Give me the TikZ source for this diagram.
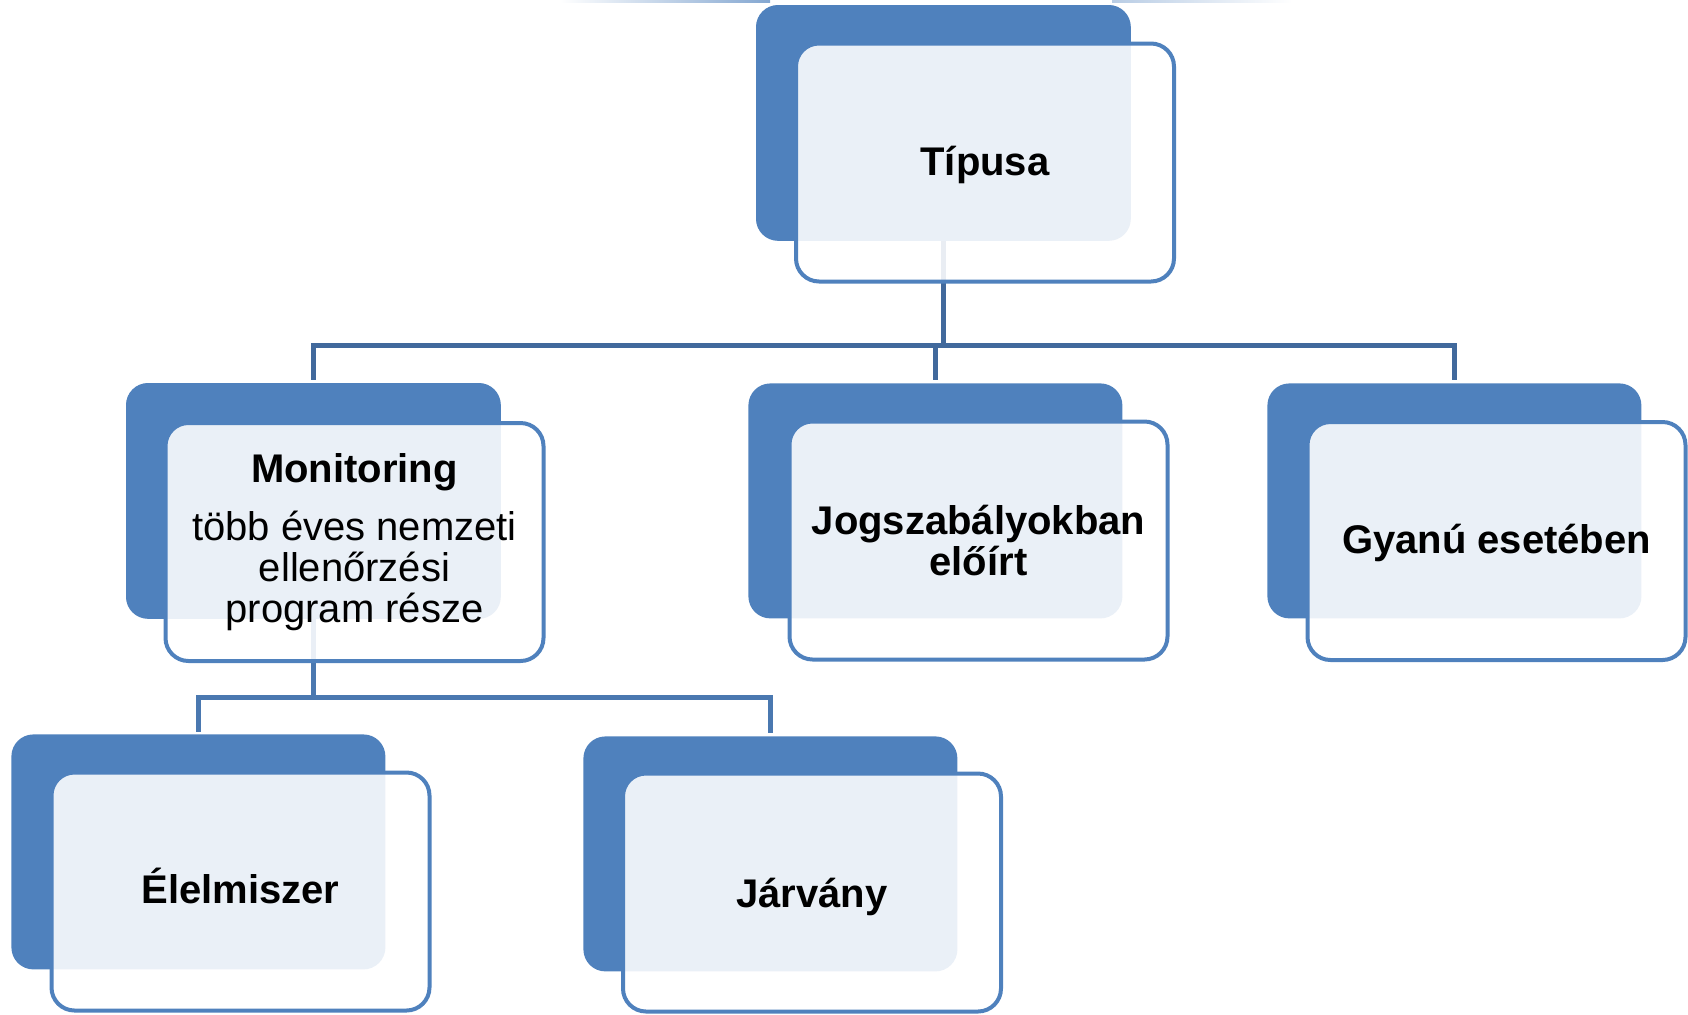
\documentclass[tikz,border=0pt]{standalone}
\usepackage{fontspec}
\setmainfont{Liberation Sans}
\usetikzlibrary{calc}
\definecolor{blueD}{HTML}{4F81BD}
\definecolor{connA}{HTML}{41699C}
\definecolor{connB}{HTML}{4A78B0}
\tikzset{
  darkbox/.style={rectangle, rounded corners=11pt, fill=blueD, draw=none,
    minimum width=187pt, minimum height=117.5pt, inner sep=0pt, anchor=north west},
  lightbox/.style={rectangle, rounded corners=11.5pt, draw=blueD, line width=2pt,
    fill=white, fill opacity=0.885, text opacity=1,
    minimum width=189pt, minimum height=119pt, inner sep=0pt, align=center,
    font=\fontsize{20}{20.5}\selectfont\bfseries},
  oneline/.style={text height=14.3pt, text depth=4.2pt},
  connA/.style={draw=connA, line width=2.5pt, line cap=rect, line join=miter},
  connB/.style={draw=connB, line width=2.5pt, line cap=rect, line join=miter}
}
\begin{document}
\begin{tikzpicture}[x=0.5pt, y=-0.5pt]
\useasboundingbox (0,0) rectangle (1688,1014);
% faint top line
\shade[left color=white, right color=blueD!70] (560,0) rectangle (770,2);
\shade[left color=blueD!40, right color=white] (1112,0) rectangle (1292,2);

% dark boxes (positions only, no text)
\node[darkbox] (tD) at (756,5) {};
\node[darkbox] (monD) at (126,383) {};
\node[darkbox] (jogD) at (748,383) {};
\node[darkbox] (gyD) at (1267,383) {};
\node[darkbox] (elD) at (11,734) {};
\node[darkbox] (jaD) at (583,736) {};

% connectors (behind the light boxes)
\draw[connA] (tD.south) -- ++(0,105) coordinate (hub);
\draw[connA] (hub -| monD.north) -- (hub -| gyD.north);
\draw[connA, shorten >=3pt] (hub -| monD.north) -- (monD.north);
\draw[connA, shorten >=3pt] (hub -| jogD.north) -- (jogD.north);
\draw[connA, shorten >=3pt] (hub -| gyD.north) -- (gyD.north);

\draw[connB] (monD.south) -- ++(0,79) coordinate (hub2);
\draw[connB] (hub2 -| elD.north) -- (hub2 -| jaD.north);
\draw[connB, shorten >=2.5pt] (hub2 -| elD.north) -- (elD.north);
\draw[connB, shorten >=3pt] (hub2 -| jaD.north) -- (jaD.north);

% redraw dark boxes over connector stubs
\fill[blueD, rounded corners=11pt] (tD.south west) rectangle (tD.north east);
\fill[blueD, rounded corners=11pt] (monD.south west) rectangle (monD.north east);

% light outlined boxes with text
\node[lightbox, oneline] (t) at (985,162.5) {\raisebox{-1.2pt}{Típusa}};
\node[lightbox] (mon) at (354.5,542) {Monitoring\\[8.5pt]
  \mdseries több éves nemzeti\\ \mdseries ellenőrzési\\ \mdseries program része};
\node[lightbox] (jog) at (978.5,540.5) {Jogszabályokban\\előírt};
\node[lightbox, oneline] (gy) at (1496.5,541) {\raisebox{-1pt}{Gyanú esetében}};
\node[lightbox, oneline] (el) at (240.5,891.5) {\raisebox{-0.7pt}{Élelmiszer}};
\node[lightbox, oneline] (ja) at (812,892.5) {\raisebox{-2.2pt}{Járvány}};
\end{tikzpicture}
\end{document}
